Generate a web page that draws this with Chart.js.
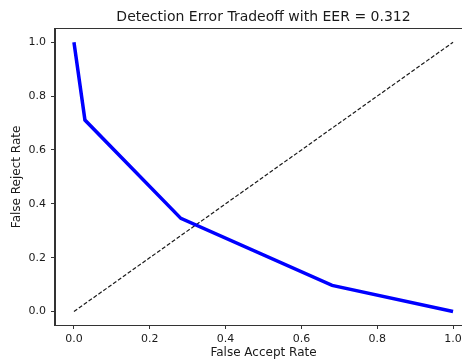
<!DOCTYPE html>
<html>
<head>
<meta charset="utf-8">
<script src="https://cdn.jsdelivr.net/npm/chart.js@4/dist/chart.umd.min.js"></script>
<style>
  html, body { margin: 0; padding: 0; background: #fff; overflow: hidden; }
  #wrap { width: 480px; height: 360px; }
</style>
</head>
<body>
<div id="wrap"><canvas id="c" width="480" height="360"></canvas></div>
<script>
// Data
const farValues = [0.0, 0.029, 0.282, 0.681, 1.0];
const frrValues = [1.0, 0.711, 0.346, 0.097, 0.0];
const diagX = [0.0, 1.0];
const diagY = [0.0, 1.0];
const xTickValues = [0.0, 0.2, 0.4, 0.6, 0.8, 1.0];
const yTickValues = [0.0, 0.2, 0.4, 0.6, 0.8, 1.0];
const eer = 0.312;
const titleText = 'Detection Error Tradeoff with EER = ' + eer;
const xLabel = 'False Accept Rate';
const yLabel = 'False Reject Rate';

const font = 'DejaVu Sans';
const textColor = '#1a1a1a';
const spineColor = '#333333';

const frame = {
  id: 'frame',
  afterDraw(chart) {
    const a = chart.chartArea, ctx = chart.ctx;
    ctx.save();
    ctx.strokeStyle = spineColor;
    ctx.lineWidth = 1;
    ctx.strokeRect(Math.round(a.left) - 0.5, Math.round(a.top) - 0.5,
                   Math.round(a.right - a.left) + 1, Math.round(a.bottom - a.top) + 1);
    ctx.restore();
  }
};

new Chart(document.getElementById('c'), {
  type: 'scatter',
  data: {
    datasets: [
      {
        data: farValues.map((x, i) => ({ x: x, y: frrValues[i] })),
        showLine: true,
        borderColor: '#0000ff',
        backgroundColor: '#0000ff',
        borderWidth: 3.5,
        pointRadius: 0,
        tension: 0,
        order: 1
      },
      {
        data: diagX.map((x, i) => ({ x: x, y: diagY[i] })),
        showLine: true,
        borderColor: '#1a1a1a',
        borderWidth: 1.2,
        borderDash: [4, 2],
        pointRadius: 0,
        tension: 0,
        order: 2
      }
    ]
  },
  options: {
    responsive: false,
    animation: false,
    devicePixelRatio: 1,
    layout: { padding: { top: 0, right: 8, bottom: 0, left: 0 } },
    plugins: {
      legend: { display: false },
      tooltip: { enabled: false },
      title: {
        display: true,
        fullSize: false,
        text: titleText,
        color: textColor,
        font: { family: font, size: 14, weight: 'normal', lineHeight: 1.2 },
        padding: { top: 8.5, bottom: 3.5 }
      }
    },
    scales: {
      x: {
        type: 'linear',
        min: -0.05,
        max: 1.05,
        afterBuildTicks: s => { s.ticks = xTickValues.map(v => ({ value: v })); },
        afterFit: s => { s.height = 35; },
        ticks: {
          color: textColor,
          font: { family: font, size: 11 },
          padding: 4,
          maxRotation: 0,
          autoSkip: false,
          callback: v => Number(v).toFixed(1)
        },
        grid: { drawOnChartArea: false, drawTicks: true, tickLength: 4, color: spineColor },
        border: { display: true, color: spineColor },
        title: {
          display: true,
          text: xLabel,
          color: textColor,
          font: { family: font, size: 12 },
          padding: { top: 0, bottom: 0 }
        }
      },
      y: {
        type: 'linear',
        min: -0.05,
        max: 1.05,
        afterBuildTicks: s => { s.ticks = yTickValues.map(v => ({ value: v })); },
        afterFit: s => { s.width = 55; },
        ticks: {
          color: textColor,
          font: { family: font, size: 11 },
          padding: 5,
          autoSkip: false,
          callback: v => Number(v).toFixed(1)
        },
        grid: { drawOnChartArea: false, drawTicks: true, tickLength: 4, color: spineColor },
        border: { display: true, color: spineColor },
        title: {
          display: true,
          text: yLabel,
          color: textColor,
          font: { family: font, size: 12 },
          padding: { top: 10, bottom: 4 }
        }
      }
    }
  },
  plugins: [frame]
});
</script>
</body>
</html>
